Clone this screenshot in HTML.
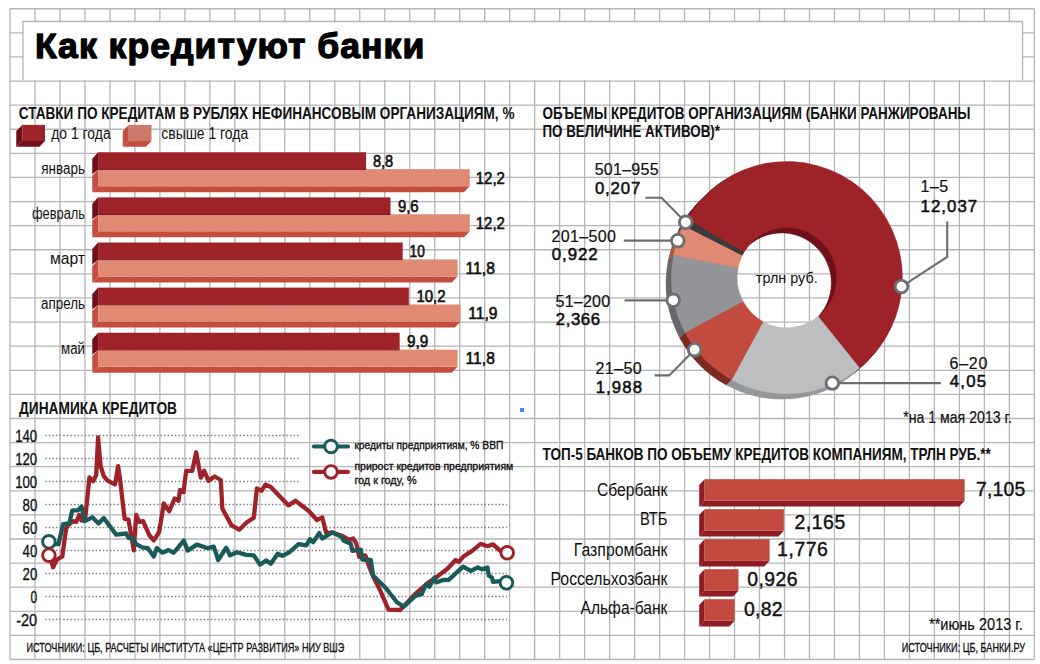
<!DOCTYPE html>
<html lang="ru"><head><meta charset="utf-8"><title>Как кредитуют банки</title>
<style>html,body{margin:0;padding:0;background:#fff}body{width:1040px;height:664px;overflow:hidden}svg{display:block}text{font-family:'Liberation Sans', sans-serif;fill:#111}</style>
</head><body>
<svg width="1040" height="664" viewBox="0 0 1040 664">
<rect width="1040" height="664" fill="#fff"/>
<path d="M10.00 8.75V659.5M34.98 8.75V659.5M59.97 8.75V659.5M84.95 8.75V659.5M109.94 8.75V659.5M134.92 8.75V659.5M159.90 8.75V659.5M184.89 8.75V659.5M209.87 8.75V659.5M234.86 8.75V659.5M259.84 8.75V659.5M284.83 8.75V659.5M309.81 8.75V659.5M334.79 8.75V659.5M359.78 8.75V659.5M384.76 8.75V659.5M409.75 8.75V659.5M434.73 8.75V659.5M459.71 8.75V659.5M484.70 8.75V659.5M509.68 8.75V659.5M534.67 8.75V659.5M559.65 8.75V659.5M584.64 8.75V659.5M609.62 8.75V659.5M634.60 8.75V659.5M659.59 8.75V659.5M684.57 8.75V659.5M709.56 8.75V659.5M734.54 8.75V659.5M759.52 8.75V659.5M784.51 8.75V659.5M809.49 8.75V659.5M834.48 8.75V659.5M859.46 8.75V659.5M884.45 8.75V659.5M909.43 8.75V659.5M934.41 8.75V659.5M959.40 8.75V659.5M984.38 8.75V659.5M1009.37 8.75V659.5M1034.35 8.75V659.5M10.0 8.75H1034.35M10.0 32.85H1034.35M10.0 56.95H1034.35M10.0 81.06H1034.35M10.0 105.16H1034.35M10.0 129.26H1034.35M10.0 153.36H1034.35M10.0 177.46H1034.35M10.0 201.56H1034.35M10.0 225.67H1034.35M10.0 249.77H1034.35M10.0 273.87H1034.35M10.0 297.97H1034.35M10.0 322.07H1034.35M10.0 346.18H1034.35M10.0 370.28H1034.35M10.0 394.38H1034.35M10.0 418.48H1034.35M10.0 442.58H1034.35M10.0 466.69H1034.35M10.0 490.79H1034.35M10.0 514.89H1034.35M10.0 538.99H1034.35M10.0 563.09H1034.35M10.0 587.19H1034.35M10.0 611.30H1034.35M10.0 635.40H1034.35M10.0 659.50H1034.35" stroke="#b3b5b8" stroke-width="1.3" fill="none"/>
<rect x="23" y="21.5" width="999.5" height="58.3" fill="#fff"/>
<path d="M23 80V21.5H1022.5V80" stroke="#b3b5b8" stroke-width="1.3" fill="none"/>
<text x="34.95" y="57.80" font-size="35.6" textLength="389.33" lengthAdjust="spacing" font-weight="bold" stroke="#000" stroke-width="1.3" stroke-linejoin="round" style="fill:#000">Как кредитуют банки</text>
<text x="18.75" y="118.75" font-size="15.7" textLength="495.74" lengthAdjust="spacingAndGlyphs" font-weight="bold">СТАВКИ ПО КРЕДИТАМ В РУБЛЯХ НЕФИНАНСОВЫМ ОРГАНИЗАЦИЯМ, %</text>
<text x="542.50" y="118.75" font-size="15.7" textLength="428.03" lengthAdjust="spacingAndGlyphs" font-weight="bold">ОБЪЕМЫ КРЕДИТОВ ОРГАНИЗАЦИЯМ (БАНКИ РАНЖИРОВАНЫ</text>
<text x="542.50" y="137.00" font-size="15.7" textLength="177.49" lengthAdjust="spacingAndGlyphs" font-weight="bold">ПО ВЕЛИЧИНЕ АКТИВОВ)*</text>
<text x="19.00" y="414.40" font-size="15.7" textLength="157.99" lengthAdjust="spacingAndGlyphs" font-weight="bold">ДИНАМИКА КРЕДИТОВ</text>
<text x="542.50" y="459.80" font-size="15.7" textLength="448.27" lengthAdjust="spacingAndGlyphs" font-weight="bold">ТОП-5 БАНКОВ ПО ОБЪЕМУ КРЕДИТОВ КОМПАНИЯМ, ТРЛН РУБ.**</text>
<polygon points="22.25,124.90 16.25,131.10 16.25,146.75 22.25,141.10" fill="#70101a"/>
<polygon points="22.25,141.10 45.00,141.10 39.40,146.75 16.25,146.75" fill="#70101a"/>
<rect x="22.25" y="124.90" width="22.75" height="16.20" fill="#9e2329"/>
<polygon points="128.75,124.90 122.75,131.10 122.75,146.75 128.75,141.10" fill="#c54d40"/>
<polygon points="128.75,141.10 151.50,141.10 145.90,146.75 122.75,146.75" fill="#c54d40"/>
<rect x="128.75" y="124.90" width="22.75" height="16.20" fill="#cc7b6b"/>
<text x="51.25" y="139.25" font-size="16" textLength="59.38" lengthAdjust="spacingAndGlyphs">до 1 года</text>
<text x="161.25" y="139.25" font-size="16" textLength="86.96" lengthAdjust="spacingAndGlyphs">свыше 1 года</text>
<polygon points="98.10,169.75 92.25,175.75 92.25,192.25 98.10,186.25" fill="#c54d40"/>
<polygon points="98.10,186.25 469.80,186.25 463.95,192.25 92.25,192.25" fill="#c54d40"/>
<rect x="98.10" y="169.15" width="371.70" height="17.10" fill="#e08a75"/>
<polygon points="98.10,152.25 92.25,158.75 92.25,174.15 98.10,169.75" fill="#70101a"/>
<rect x="98.10" y="152.25" width="268.00" height="16.90" fill="#9e2329"/>
<rect x="98.10" y="168.95" width="268.00" height="0.90" fill="#70101a"/>
<text x="41.25" y="173.70" font-size="15.8" textLength="43.78" lengthAdjust="spacingAndGlyphs">январь</text>
<text x="372.90" y="166.60" font-size="15.8" textLength="20.30" lengthAdjust="spacingAndGlyphs" stroke="#111" stroke-width="0.6" stroke-linejoin="round">8,8</text>
<text x="475.80" y="183.50" font-size="15.8" textLength="29.02" lengthAdjust="spacingAndGlyphs" stroke="#111" stroke-width="0.6" stroke-linejoin="round">12,2</text>
<polygon points="98.10,214.87 92.25,220.87 92.25,237.37 98.10,231.37" fill="#c54d40"/>
<polygon points="98.10,231.37 469.80,231.37 463.95,237.37 92.25,237.37" fill="#c54d40"/>
<rect x="98.10" y="214.27" width="371.70" height="17.10" fill="#e08a75"/>
<polygon points="98.10,197.37 92.25,203.87 92.25,219.27 98.10,214.87" fill="#70101a"/>
<rect x="98.10" y="197.37" width="292.40" height="16.90" fill="#9e2329"/>
<rect x="98.10" y="214.07" width="292.40" height="0.90" fill="#70101a"/>
<text x="31.90" y="218.70" font-size="15.8" textLength="53.13" lengthAdjust="spacingAndGlyphs">февраль</text>
<text x="397.90" y="211.70" font-size="15.8" textLength="20.70" lengthAdjust="spacingAndGlyphs" stroke="#111" stroke-width="0.6" stroke-linejoin="round">9,6</text>
<text x="475.80" y="228.60" font-size="15.8" textLength="29.02" lengthAdjust="spacingAndGlyphs" stroke="#111" stroke-width="0.6" stroke-linejoin="round">12,2</text>
<polygon points="98.10,259.99 92.25,265.99 92.25,282.49 98.10,276.49" fill="#c54d40"/>
<polygon points="98.10,276.49 457.60,276.49 451.75,282.49 92.25,282.49" fill="#c54d40"/>
<rect x="98.10" y="259.39" width="359.50" height="17.10" fill="#e08a75"/>
<polygon points="98.10,242.49 92.25,248.99 92.25,264.39 98.10,259.99" fill="#70101a"/>
<rect x="98.10" y="242.49" width="304.60" height="16.90" fill="#9e2329"/>
<rect x="98.10" y="259.19" width="304.60" height="0.90" fill="#70101a"/>
<text x="50.00" y="263.70" font-size="15.8" textLength="35.01" lengthAdjust="spacingAndGlyphs">март</text>
<text x="409.60" y="256.80" font-size="15.8" textLength="15.23" lengthAdjust="spacingAndGlyphs" stroke="#111" stroke-width="0.6" stroke-linejoin="round">10</text>
<text x="465.60" y="273.70" font-size="15.8" textLength="29.23" lengthAdjust="spacingAndGlyphs" stroke="#111" stroke-width="0.6" stroke-linejoin="round">11,8</text>
<polygon points="98.10,305.11 92.25,311.11 92.25,327.61 98.10,321.61" fill="#c54d40"/>
<polygon points="98.10,321.61 460.65,321.61 454.80,327.61 92.25,327.61" fill="#c54d40"/>
<rect x="98.10" y="304.51" width="362.55" height="17.10" fill="#e08a75"/>
<polygon points="98.10,287.61 92.25,294.11 92.25,309.51 98.10,305.11" fill="#70101a"/>
<rect x="98.10" y="287.61" width="310.70" height="16.90" fill="#9e2329"/>
<rect x="98.10" y="304.31" width="310.70" height="0.90" fill="#70101a"/>
<text x="41.00" y="308.70" font-size="15.8" textLength="44.02" lengthAdjust="spacingAndGlyphs">апрель</text>
<text x="416.40" y="301.90" font-size="15.8" textLength="29.22" lengthAdjust="spacingAndGlyphs" stroke="#111" stroke-width="0.6" stroke-linejoin="round">10,2</text>
<text x="468.30" y="318.80" font-size="15.8" textLength="29.23" lengthAdjust="spacingAndGlyphs" stroke="#111" stroke-width="0.6" stroke-linejoin="round">11,9</text>
<polygon points="98.10,350.23 92.25,356.23 92.25,372.73 98.10,366.73" fill="#c54d40"/>
<polygon points="98.10,366.73 457.60,366.73 451.75,372.73 92.25,372.73" fill="#c54d40"/>
<rect x="98.10" y="349.63" width="359.50" height="17.10" fill="#e08a75"/>
<polygon points="98.10,332.73 92.25,339.23 92.25,354.63 98.10,350.23" fill="#70101a"/>
<rect x="98.10" y="332.73" width="301.55" height="16.90" fill="#9e2329"/>
<rect x="98.10" y="349.43" width="301.55" height="0.90" fill="#70101a"/>
<text x="61.00" y="353.70" font-size="15.8" textLength="24.03" lengthAdjust="spacingAndGlyphs">май</text>
<text x="406.90" y="347.00" font-size="15.8" textLength="21.30" lengthAdjust="spacingAndGlyphs" stroke="#111" stroke-width="0.6" stroke-linejoin="round">9,9</text>
<text x="465.60" y="363.90" font-size="15.8" textLength="29.23" lengthAdjust="spacingAndGlyphs" stroke="#111" stroke-width="0.6" stroke-linejoin="round">11,8</text>
<line x1="45.2" y1="435.50" x2="301.0" y2="435.50" stroke="#7f8082" stroke-width="1.5" stroke-dasharray="1.5 2.1"/>
<text x="15.15" y="442.00" font-size="15.6" textLength="22.08" lengthAdjust="spacingAndGlyphs" stroke="#111" stroke-width="0.3" stroke-linejoin="round">140</text>
<line x1="45.2" y1="458.50" x2="301.0" y2="458.50" stroke="#7f8082" stroke-width="1.5" stroke-dasharray="1.5 2.1"/>
<text x="15.15" y="465.00" font-size="15.6" textLength="22.08" lengthAdjust="spacingAndGlyphs" stroke="#111" stroke-width="0.3" stroke-linejoin="round">120</text>
<line x1="45.2" y1="481.50" x2="301.0" y2="481.50" stroke="#7f8082" stroke-width="1.5" stroke-dasharray="1.5 2.1"/>
<text x="15.15" y="488.00" font-size="15.6" textLength="22.08" lengthAdjust="spacingAndGlyphs" stroke="#111" stroke-width="0.3" stroke-linejoin="round">100</text>
<line x1="45.2" y1="504.50" x2="507.0" y2="504.50" stroke="#7f8082" stroke-width="1.5" stroke-dasharray="1.5 2.1"/>
<text x="22.55" y="511.00" font-size="15.6" textLength="14.73" lengthAdjust="spacingAndGlyphs" stroke="#111" stroke-width="0.3" stroke-linejoin="round">80</text>
<line x1="45.2" y1="527.50" x2="507.0" y2="527.50" stroke="#7f8082" stroke-width="1.5" stroke-dasharray="1.5 2.1"/>
<text x="22.55" y="534.00" font-size="15.6" textLength="14.73" lengthAdjust="spacingAndGlyphs" stroke="#111" stroke-width="0.3" stroke-linejoin="round">60</text>
<line x1="45.2" y1="550.50" x2="507.0" y2="550.50" stroke="#7f8082" stroke-width="1.5" stroke-dasharray="1.5 2.1"/>
<text x="22.55" y="557.00" font-size="15.6" textLength="14.73" lengthAdjust="spacingAndGlyphs" stroke="#111" stroke-width="0.3" stroke-linejoin="round">40</text>
<line x1="45.2" y1="573.50" x2="507.0" y2="573.50" stroke="#7f8082" stroke-width="1.5" stroke-dasharray="1.5 2.1"/>
<text x="22.55" y="580.00" font-size="15.6" textLength="14.73" lengthAdjust="spacingAndGlyphs" stroke="#111" stroke-width="0.3" stroke-linejoin="round">20</text>
<line x1="45.2" y1="596.50" x2="507.0" y2="596.50" stroke="#7f8082" stroke-width="1.5" stroke-dasharray="1.5 2.1"/>
<text x="30.55" y="603.00" font-size="15.6" textLength="6.71" lengthAdjust="spacingAndGlyphs" stroke="#111" stroke-width="0.3" stroke-linejoin="round">0</text>
<line x1="45.2" y1="619.50" x2="507.0" y2="619.50" stroke="#7f8082" stroke-width="1.5" stroke-dasharray="1.5 2.1"/>
<text x="16.15" y="626.00" font-size="15.6" textLength="21.11" lengthAdjust="spacingAndGlyphs" stroke="#111" stroke-width="0.3" stroke-linejoin="round">-20</text>
<polyline points="49.2,555.0 53.1,567.3 56.9,559.6 62.3,556.5 66.2,528.1 69.2,524.2 73.1,521.2 76.2,521.9 79.2,515.0 81.5,520.4 85.4,516.5 89.4,477.5 93.1,481.2 96.2,475.0 98.1,437.5 100.6,466.2 103.8,476.2 107.5,480.6 115.0,484.4 118.1,466.2 120.0,478.8 124.6,518.8 128.5,519.6 133.8,550.4 136.2,515.0 139.2,521.9 143.1,521.2 149.2,535.0 153.8,540.4 159.2,531.9 163.8,503.5 169.2,511.2 174.6,498.5 178.5,500.8 180.0,490.0 183.5,492.3 186.2,470.8 192.3,470.8 196.2,452.3 200.8,477.7 204.2,470.8 208.5,480.8 214.6,476.5 220.8,480.0 222.3,508.5 231.5,525.4 239.2,529.7 246.9,522.3 253.8,517.7 256.9,488.5 261.5,490.8 265.4,484.6 270.8,486.9 288.5,505.4 295.4,500.8 308.5,510.8 316.9,520.0 322.3,517.4 326.2,533.1 332.3,532.5 343.1,536.2 349.2,540.0 353.1,538.5 356.2,543.1 359.2,556.9 365.4,555.4 369.2,566.9 373.1,576.2 380.0,590.0 388.5,609.7 400.0,610.0 403.8,606.2 415.4,593.8 427.7,583.1 436.9,576.9 447.7,568.5 455.6,560.0 458.8,561.9 463.8,556.2 472.5,550.6 480.6,543.8 487.5,546.2 493.1,544.4 500.0,550.6 506.9,552.5" fill="none" stroke="#9e2329" stroke-width="4.3" stroke-linejoin="round" stroke-linecap="round"/>
<polyline points="49.2,541.9 55.4,544.2 58.5,544.2 63.1,524.2 69.2,523.5 72.3,510.4 77.7,510.4 81.5,506.5 84.6,521.2 92.3,517.3 98.5,523.5 103.8,518.0 116.2,534.7 126.2,533.5 128.5,537.8 133.1,538.8 136.2,544.2 142.3,547.3 147.7,548.1 153.8,556.5 156.9,548.1 162.3,552.7 168.5,550.1 173.8,552.7 183.8,540.6 187.7,550.6 196.9,544.6 207.7,548.2 213.8,546.6 218.2,560.0 226.2,547.7 230.0,555.4 236.9,552.3 246.2,554.9 253.8,555.4 260.0,564.6 266.2,560.5 270.8,563.8 277.7,553.8 282.3,555.8 289.2,552.3 298.5,544.2 306.2,545.4 310.0,539.2 313.1,542.3 319.2,533.1 322.3,538.5 332.3,532.3 341.5,536.9 343.8,540.8 350.8,543.8 352.3,550.8 360.8,549.7 362.3,559.5 370.8,560.0 373.1,575.4 386.2,588.5 396.9,602.3 403.8,606.6 415.2,595.9 421.7,594.1 425.9,584.5 429.3,586.8 434.5,577.6 436.2,582.4 442.8,580.0 448.6,579.9 463.1,566.7 470.7,570.9 477.9,567.5 481.9,569.4 487.5,567.5 488.8,575.6 491.9,577.5 493.1,581.9 500.0,581.2 506.2,582.5" fill="none" stroke="#1b5a5b" stroke-width="4.3" stroke-linejoin="round" stroke-linecap="round"/>
<circle cx="48.9" cy="541.8" r="6.3" fill="#fff" stroke="#1b5a5b" stroke-width="2.9"/>
<circle cx="48.9" cy="555.2" r="6.3" fill="#fff" stroke="#9e2329" stroke-width="2.9"/>
<circle cx="507.2" cy="552.8" r="6.3" fill="#fff" stroke="#9e2329" stroke-width="2.9"/>
<circle cx="506.4" cy="582.8" r="6.3" fill="#fff" stroke="#1b5a5b" stroke-width="2.9"/>
<line x1="313.9" y1="446.5" x2="348" y2="446.5" stroke="#1b5a5b" stroke-width="4.1" stroke-linecap="round"/>
<line x1="313.9" y1="471.9" x2="348" y2="471.9" stroke="#9e2329" stroke-width="4.1" stroke-linecap="round"/>
<circle cx="331.0" cy="446.5" r="6.3" fill="#fff" stroke="#1b5a5b" stroke-width="2.9"/>
<circle cx="331.0" cy="471.9" r="6.3" fill="#fff" stroke="#9e2329" stroke-width="2.9"/>
<text x="354.38" y="448.90" font-size="11.6" textLength="148.94" lengthAdjust="spacingAndGlyphs" stroke="#111" stroke-width="0.35" stroke-linejoin="round">кредиты предприятиям, % ВВП</text>
<text x="354.38" y="469.90" font-size="11.6" textLength="158.95" lengthAdjust="spacingAndGlyphs" stroke="#111" stroke-width="0.35" stroke-linejoin="round">прирост кредитов предприятиям</text>
<text x="354.38" y="483.60" font-size="11.6" textLength="62.24" lengthAdjust="spacingAndGlyphs" stroke="#111" stroke-width="0.35" stroke-linejoin="round">год к году, %</text>
<text x="26.55" y="652.10" font-size="12" textLength="317.69" lengthAdjust="spacingAndGlyphs" stroke="#111" stroke-width="0.3" stroke-linejoin="round">ИСТОЧНИКИ: ЦБ, РАСЧЕТЫ ИНСТИТУТА «ЦЕНТР РАЗВИТИЯ» НИУ ВШЭ</text>
<text x="901.65" y="651.50" font-size="12" textLength="123.49" lengthAdjust="spacingAndGlyphs" stroke="#111" stroke-width="0.3" stroke-linejoin="round">ИСТОЧНИКИ: ЦБ, БАНКИ.РУ</text>
<g>
<path d="M681.58 224.77A115.5 116.20 0 1 1 854.19 373.35L812.84 321.99A49.8 50.10 0 1 0 738.42 257.92Z" fill="#70101a" stroke="#70101a" stroke-width="0.4"/>
<path d="M854.19 373.35A115.5 116.20 0 0 1 726.22 385.08L757.67 327.04A49.8 50.10 0 0 0 812.84 321.99Z" fill="#96989b" stroke="#96989b" stroke-width="0.4"/>
<path d="M726.22 385.08A115.5 116.20 0 0 1 679.73 338.01L737.62 306.75A49.8 50.10 0 0 0 757.67 327.04Z" fill="#7c2a21" stroke="#7c2a21" stroke-width="0.4"/>
<path d="M679.73 338.01A115.5 116.20 0 0 1 668.22 260.36L732.66 273.27A49.8 50.10 0 0 0 737.62 306.75Z" fill="#67686b" stroke="#67686b" stroke-width="0.4"/>
<path d="M668.22 260.36A115.5 116.20 0 0 1 678.27 230.93L736.99 260.58A49.8 50.10 0 0 0 732.66 273.27Z" fill="#a65a47" stroke="#a65a47" stroke-width="0.4"/>
<path d="M678.27 230.93A115.5 116.20 0 0 1 681.58 224.77L738.42 257.92A49.8 50.10 0 0 0 736.99 260.58Z" fill="#1c1c1e" stroke="#1c1c1e" stroke-width="0.4"/>
<path d="M682.48 223.87A115.5 116.20 0 1 1 855.09 372.45L813.74 321.09A49.8 50.10 0 1 0 739.32 257.02Z" fill="#70101a" stroke="#70101a" stroke-width="0.4"/>
<path d="M855.09 372.45A115.5 116.20 0 0 1 727.12 384.18L758.57 326.14A49.8 50.10 0 0 0 813.74 321.09Z" fill="#96989b" stroke="#96989b" stroke-width="0.4"/>
<path d="M727.12 384.18A115.5 116.20 0 0 1 680.63 337.11L738.52 305.85A49.8 50.10 0 0 0 758.57 326.14Z" fill="#7c2a21" stroke="#7c2a21" stroke-width="0.4"/>
<path d="M680.63 337.11A115.5 116.20 0 0 1 669.12 259.46L733.56 272.37A49.8 50.10 0 0 0 738.52 305.85Z" fill="#67686b" stroke="#67686b" stroke-width="0.4"/>
<path d="M669.12 259.46A115.5 116.20 0 0 1 679.17 230.03L737.89 259.68A49.8 50.10 0 0 0 733.56 272.37Z" fill="#a65a47" stroke="#a65a47" stroke-width="0.4"/>
<path d="M679.17 230.03A115.5 116.20 0 0 1 682.48 223.87L739.32 257.02A49.8 50.10 0 0 0 737.89 259.68Z" fill="#1c1c1e" stroke="#1c1c1e" stroke-width="0.4"/>
<path d="M683.38 222.97A115.5 116.20 0 1 1 855.99 371.55L814.64 320.19A49.8 50.10 0 1 0 740.22 256.12Z" fill="#70101a" stroke="#70101a" stroke-width="0.4"/>
<path d="M855.99 371.55A115.5 116.20 0 0 1 728.02 383.28L759.47 325.24A49.8 50.10 0 0 0 814.64 320.19Z" fill="#96989b" stroke="#96989b" stroke-width="0.4"/>
<path d="M728.02 383.28A115.5 116.20 0 0 1 681.53 336.21L739.42 304.95A49.8 50.10 0 0 0 759.47 325.24Z" fill="#7c2a21" stroke="#7c2a21" stroke-width="0.4"/>
<path d="M681.53 336.21A115.5 116.20 0 0 1 670.02 258.56L734.46 271.47A49.8 50.10 0 0 0 739.42 304.95Z" fill="#67686b" stroke="#67686b" stroke-width="0.4"/>
<path d="M670.02 258.56A115.5 116.20 0 0 1 680.07 229.13L738.79 258.78A49.8 50.10 0 0 0 734.46 271.47Z" fill="#a65a47" stroke="#a65a47" stroke-width="0.4"/>
<path d="M680.07 229.13A115.5 116.20 0 0 1 683.38 222.97L740.22 256.12A49.8 50.10 0 0 0 738.79 258.78Z" fill="#1c1c1e" stroke="#1c1c1e" stroke-width="0.4"/>
<path d="M684.28 222.07A115.5 116.20 0 1 1 856.89 370.65L815.54 319.29A49.8 50.10 0 1 0 741.12 255.22Z" fill="#70101a" stroke="#70101a" stroke-width="0.4"/>
<path d="M856.89 370.65A115.5 116.20 0 0 1 728.92 382.38L760.37 324.34A49.8 50.10 0 0 0 815.54 319.29Z" fill="#96989b" stroke="#96989b" stroke-width="0.4"/>
<path d="M728.92 382.38A115.5 116.20 0 0 1 682.43 335.31L740.32 304.05A49.8 50.10 0 0 0 760.37 324.34Z" fill="#7c2a21" stroke="#7c2a21" stroke-width="0.4"/>
<path d="M682.43 335.31A115.5 116.20 0 0 1 670.92 257.66L735.36 270.57A49.8 50.10 0 0 0 740.32 304.05Z" fill="#67686b" stroke="#67686b" stroke-width="0.4"/>
<path d="M670.92 257.66A115.5 116.20 0 0 1 680.97 228.23L739.69 257.88A49.8 50.10 0 0 0 735.36 270.57Z" fill="#a65a47" stroke="#a65a47" stroke-width="0.4"/>
<path d="M680.97 228.23A115.5 116.20 0 0 1 684.28 222.07L741.12 255.22A49.8 50.10 0 0 0 739.69 257.88Z" fill="#1c1c1e" stroke="#1c1c1e" stroke-width="0.4"/>
<path d="M685.18 221.17A115.5 116.20 0 1 1 857.79 369.75L816.44 318.39A49.8 50.10 0 1 0 742.02 254.32Z" fill="#70101a" stroke="#70101a" stroke-width="0.4"/>
<path d="M857.79 369.75A115.5 116.20 0 0 1 729.82 381.48L761.27 323.44A49.8 50.10 0 0 0 816.44 318.39Z" fill="#96989b" stroke="#96989b" stroke-width="0.4"/>
<path d="M729.82 381.48A115.5 116.20 0 0 1 683.33 334.41L741.22 303.15A49.8 50.10 0 0 0 761.27 323.44Z" fill="#7c2a21" stroke="#7c2a21" stroke-width="0.4"/>
<path d="M683.33 334.41A115.5 116.20 0 0 1 671.82 256.76L736.26 269.67A49.8 50.10 0 0 0 741.22 303.15Z" fill="#67686b" stroke="#67686b" stroke-width="0.4"/>
<path d="M671.82 256.76A115.5 116.20 0 0 1 681.87 227.33L740.59 256.98A49.8 50.10 0 0 0 736.26 269.67Z" fill="#a65a47" stroke="#a65a47" stroke-width="0.4"/>
<path d="M681.87 227.33A115.5 116.20 0 0 1 685.18 221.17L742.02 254.32A49.8 50.10 0 0 0 740.59 256.98Z" fill="#1c1c1e" stroke="#1c1c1e" stroke-width="0.4"/>
<path d="M686.08 220.27A115.5 116.20 0 1 1 858.69 368.85L817.34 317.49A49.8 50.10 0 1 0 742.92 253.42Z" fill="#70101a" stroke="#70101a" stroke-width="0.4"/>
<path d="M858.69 368.85A115.5 116.20 0 0 1 730.72 380.58L762.17 322.54A49.8 50.10 0 0 0 817.34 317.49Z" fill="#96989b" stroke="#96989b" stroke-width="0.4"/>
<path d="M730.72 380.58A115.5 116.20 0 0 1 684.23 333.51L742.12 302.25A49.8 50.10 0 0 0 762.17 322.54Z" fill="#7c2a21" stroke="#7c2a21" stroke-width="0.4"/>
<path d="M684.23 333.51A115.5 116.20 0 0 1 672.72 255.86L737.16 268.77A49.8 50.10 0 0 0 742.12 302.25Z" fill="#67686b" stroke="#67686b" stroke-width="0.4"/>
<path d="M672.72 255.86A115.5 116.20 0 0 1 682.77 226.43L741.49 256.08A49.8 50.10 0 0 0 737.16 268.77Z" fill="#a65a47" stroke="#a65a47" stroke-width="0.4"/>
<path d="M682.77 226.43A115.5 116.20 0 0 1 686.08 220.27L742.92 253.42A49.8 50.10 0 0 0 741.49 256.08Z" fill="#1c1c1e" stroke="#1c1c1e" stroke-width="0.4"/>
<path d="M686.98 219.37A115.5 116.20 0 1 1 859.59 367.95L818.24 316.59A49.8 50.10 0 1 0 743.82 252.52Z" fill="#9e2329" stroke="#9e2329" stroke-width="0.4"/>
<path d="M859.59 367.95A115.5 116.20 0 0 1 731.62 379.68L763.07 321.64A49.8 50.10 0 0 0 818.24 316.59Z" fill="#bcbec0" stroke="#bcbec0" stroke-width="0.4"/>
<path d="M731.62 379.68A115.5 116.20 0 0 1 685.13 332.61L743.02 301.35A49.8 50.10 0 0 0 763.07 321.64Z" fill="#c24b3f" stroke="#c24b3f" stroke-width="0.4"/>
<path d="M685.13 332.61A115.5 116.20 0 0 1 673.62 254.96L738.06 267.87A49.8 50.10 0 0 0 743.02 301.35Z" fill="#939598" stroke="#939598" stroke-width="0.4"/>
<path d="M673.62 254.96A115.5 116.20 0 0 1 683.67 225.53L742.39 255.18A49.8 50.10 0 0 0 738.06 267.87Z" fill="#e08a75" stroke="#e08a75" stroke-width="0.4"/>
<path d="M683.67 225.53A115.5 116.20 0 0 1 686.98 219.37L743.82 252.52A49.8 50.10 0 0 0 742.39 255.18Z" fill="#3a3a3c" stroke="#3a3a3c" stroke-width="0.4"/>
</g>
<text x="755.80" y="283.00" font-size="15.5" textLength="61.91" lengthAdjust="spacingAndGlyphs">трлн руб.</text>
<path d="M645.4 197.7H661.5L685.6 222.3" fill="none" stroke="#6d6e71" stroke-width="2.1"/>
<path d="M623.8 240.6H677.8" fill="none" stroke="#6d6e71" stroke-width="2.1"/>
<path d="M624.6 300.4H673.2" fill="none" stroke="#6d6e71" stroke-width="2.1"/>
<path d="M654.6 375.4H669.2L694.6 349.7" fill="none" stroke="#6d6e71" stroke-width="2.1"/>
<path d="M947.2 221.5V256.9L901.5 286.6" fill="none" stroke="#6d6e71" stroke-width="2.1"/>
<path d="M832.3 383.1H940.8" fill="none" stroke="#6d6e71" stroke-width="2.1"/>
<circle cx="685.7" cy="222.3" r="6.3" fill="#fff" stroke="#6d6e71" stroke-width="2.8"/>
<circle cx="677.8" cy="240.7" r="6.3" fill="#fff" stroke="#6d6e71" stroke-width="2.8"/>
<circle cx="673.2" cy="300.3" r="6.3" fill="#fff" stroke="#6d6e71" stroke-width="2.8"/>
<circle cx="694.6" cy="349.7" r="6.3" fill="#fff" stroke="#6d6e71" stroke-width="2.8"/>
<circle cx="901.5" cy="286.6" r="6.3" fill="#fff" stroke="#6d6e71" stroke-width="2.8"/>
<circle cx="832.3" cy="383.1" r="6.3" fill="#fff" stroke="#6d6e71" stroke-width="2.8"/>
<text x="594.70" y="174.60" font-size="16" textLength="63.90" lengthAdjust="spacing" stroke="#111" stroke-width="0.2" stroke-linejoin="round">501–955</text>
<text x="594.88" y="193.50" font-size="16.8" textLength="45.50" lengthAdjust="spacing" stroke="#111" stroke-width="0.55" stroke-linejoin="round">0,207</text>
<text x="551.60" y="242.20" font-size="16" textLength="64.25" lengthAdjust="spacing" stroke="#111" stroke-width="0.2" stroke-linejoin="round">201–500</text>
<text x="551.77" y="260.40" font-size="16.8" textLength="45.87" lengthAdjust="spacing" stroke="#111" stroke-width="0.55" stroke-linejoin="round">0,922</text>
<text x="555.50" y="307.30" font-size="16" textLength="54.64" lengthAdjust="spacing" stroke="#111" stroke-width="0.2" stroke-linejoin="round">51–200</text>
<text x="555.67" y="325.00" font-size="16.8" textLength="44.50" lengthAdjust="spacing" stroke="#111" stroke-width="0.55" stroke-linejoin="round">2,366</text>
<text x="595.50" y="373.80" font-size="16" textLength="46.27" lengthAdjust="spacing" stroke="#111" stroke-width="0.2" stroke-linejoin="round">21–50</text>
<text x="595.67" y="393.00" font-size="16.8" textLength="46.37" lengthAdjust="spacing" stroke="#111" stroke-width="0.55" stroke-linejoin="round">1,988</text>
<text x="920.40" y="192.30" font-size="16" textLength="27.87" lengthAdjust="spacing" stroke="#111" stroke-width="0.2" stroke-linejoin="round">1–5</text>
<text x="920.57" y="211.50" font-size="16.8" textLength="56.60" lengthAdjust="spacing" stroke="#111" stroke-width="0.55" stroke-linejoin="round">12,037</text>
<text x="949.60" y="369.20" font-size="16" textLength="37.73" lengthAdjust="spacing" stroke="#111" stroke-width="0.2" stroke-linejoin="round">6–20</text>
<text x="949.77" y="387.20" font-size="16.8" textLength="36.26" lengthAdjust="spacing" stroke="#111" stroke-width="0.55" stroke-linejoin="round">4,05</text>
<text x="903.20" y="422.80" font-size="16.4" textLength="108.71" lengthAdjust="spacingAndGlyphs" stroke="#111" stroke-width="0.2" stroke-linejoin="round">*на 1 мая 2013 г.</text>
<rect x="520" y="408" width="4" height="4" fill="#3d8bfd"/>
<polygon points="704.60,479.20 699.20,485.00 699.20,506.60 704.60,500.80" fill="#8e1c24"/>
<polygon points="704.60,500.80 964.64,500.80 959.24,506.60 699.20,506.60" fill="#8e1c24"/>
<rect x="704.60" y="479.20" width="260.04" height="21.60" fill="#c1493e"/>
<text x="597.00" y="496.25" font-size="17.5" textLength="70.37" lengthAdjust="spacingAndGlyphs">Сбербанк</text>
<text x="975.90" y="496.40" font-size="19.4" textLength="49.43" lengthAdjust="spacing" stroke="#111" stroke-width="0.4" stroke-linejoin="round">7,105</text>
<polygon points="704.60,509.20 699.20,515.00 699.20,536.60 704.60,530.80" fill="#8e1c24"/>
<polygon points="704.60,530.80 783.84,530.80 778.44,536.60 699.20,536.60" fill="#8e1c24"/>
<rect x="704.60" y="509.20" width="79.24" height="21.60" fill="#c1493e"/>
<text x="640.00" y="525.00" font-size="17.5" textLength="27.53" lengthAdjust="spacingAndGlyphs">ВТБ</text>
<text x="794.40" y="528.70" font-size="19.4" textLength="50.80" lengthAdjust="spacing" stroke="#111" stroke-width="0.4" stroke-linejoin="round">2,165</text>
<polygon points="704.60,539.20 699.20,545.00 699.20,566.60 704.60,560.80" fill="#8e1c24"/>
<polygon points="704.60,560.80 769.60,560.80 764.20,566.60 699.20,566.60" fill="#8e1c24"/>
<rect x="704.60" y="539.20" width="65.00" height="21.60" fill="#c1493e"/>
<text x="573.75" y="555.75" font-size="17.5" textLength="93.66" lengthAdjust="spacingAndGlyphs">Газпромбанк</text>
<text x="777.10" y="556.40" font-size="19.4" textLength="50.80" lengthAdjust="spacing" stroke="#111" stroke-width="0.4" stroke-linejoin="round">1,776</text>
<polygon points="704.60,569.20 699.20,575.00 699.20,596.60 704.60,590.80" fill="#8e1c24"/>
<polygon points="704.60,590.80 738.49,590.80 733.09,596.60 699.20,596.60" fill="#8e1c24"/>
<rect x="704.60" y="569.20" width="33.89" height="21.60" fill="#c1493e"/>
<text x="550.50" y="585.00" font-size="17.5" textLength="116.90" lengthAdjust="spacingAndGlyphs">Россельхозбанк</text>
<text x="747.20" y="586.45" font-size="19.4" textLength="50.43" lengthAdjust="spacing" stroke="#111" stroke-width="0.4" stroke-linejoin="round">0,926</text>
<polygon points="704.60,599.20 699.20,605.00 699.20,626.60 704.60,620.80" fill="#8e1c24"/>
<polygon points="704.60,620.80 734.61,620.80 729.21,626.60 699.20,626.60" fill="#8e1c24"/>
<rect x="704.60" y="599.20" width="30.01" height="21.60" fill="#c1493e"/>
<text x="580.50" y="614.25" font-size="17.5" textLength="86.91" lengthAdjust="spacingAndGlyphs">Альфа-банк</text>
<text x="743.95" y="615.95" font-size="19.4" textLength="38.58" lengthAdjust="spacing" stroke="#111" stroke-width="0.4" stroke-linejoin="round">0,82</text>
<text x="929.00" y="629.60" font-size="16.4" textLength="93.91" lengthAdjust="spacingAndGlyphs" stroke="#111" stroke-width="0.2" stroke-linejoin="round">**июнь 2013 г.</text>
</svg>
</body></html>
